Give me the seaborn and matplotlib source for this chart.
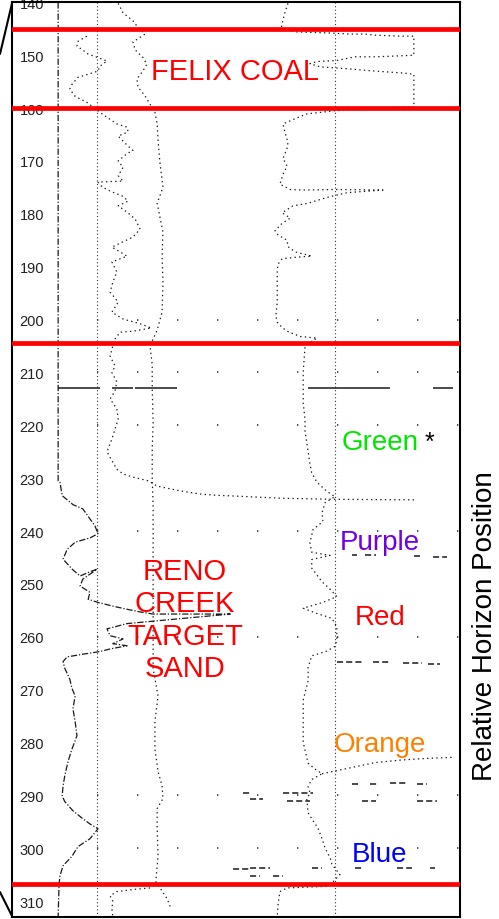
import matplotlib
matplotlib.use("Agg")
import matplotlib.pyplot as plt
from matplotlib.lines import Line2D
import pandas as pd
import seaborn as sns

# depth axis and horizon markers
DEPTH_TICKS = list(range(140, 320, 10))
RED_HORIZONS = [145.1, 160.0, 204.4, 306.8]
GRID_DEPTHS = [200, 210, 220, 240, 260, 290, 300]
REF_LINES = [19.0, 72.1]

# left-track curve (dash-dot, baseline ~10)
SP_POINTS = [
    (140.0, 10.3), (230.5, 10.3), (230.7, 10.7), (233.3, 11.2), (235.0, 13.6),
    (235.8, 15.8), (237.7, 17.4), (239.0, 18.5), (240.5, 19.2), (241.3, 17.4),
    (242.1, 14.1), (243.5, 12.3), (245.3, 11.4), (247.2, 13.4), (248.5, 15.2),
    (247.7, 17.4), (247.2, 19.0), (249.1, 15.8), (250.4, 15.2), (251.6, 17.4),
    (252.9, 17.0), (253.5, 19.2), (254.2, 22.5), (254.8, 25.7), (255.3, 28.6),
    (255.7, 31.5), (255.7, 48.7), (257.5, 25.7), (258.5, 21.2), (259.8, 21.9),
    (260.4, 24.8), (261.3, 22.5), (261.7, 25.7), (262.3, 21.9), (262.8, 19.6),
    (263.3, 15.8), (263.8, 12.3), (264.7, 11.4), (266.0, 11.8), (268.0, 12.9),
    (269.8, 13.4), (271.2, 14.1), (273.6, 13.6), (276.1, 14.1), (278.7, 14.5),
    (281.2, 13.4), (283.6, 12.5), (286.2, 11.8), (288.2, 11.4), (290.1, 11.2),
    (291.2, 11.8), (292.9, 13.6), (294.4, 15.8), (295.4, 17.4), (296.3, 19.2),
    (298.2, 17.4), (299.7, 14.7), (301.5, 13.4), (303.3, 11.4), (305.2, 10.7),
    (306.9, 10.5), (313.0, 10.3),
]

# wiggly dotted curve through the coal and upper sands
GR_POINTS = [
    (146.4, 16.7), (147.4, 14.7), (148.3, 14.5), (148.9, 15.6), (149.8, 17.0),
    (150.4, 19.0), (151.1, 21.2), (152.1, 19.6), (153.0, 19.2), (153.6, 17.0),
    (154.2, 14.7), (155.5, 13.4), (156.4, 12.9), (157.8, 14.1), (158.9, 16.7),
    (160.8, 19.6), (163.0, 23.4), (163.6, 25.7), (164.5, 25.9), (165.3, 23.7),
    (167.2, 25.9), (168.0, 27.0), (168.6, 25.7), (170.0, 23.7), (171.2, 24.8),
    (172.8, 23.7), (173.8, 24.8), (174.0, 19.2), (174.9, 20.1), (175.7, 21.9),
    (176.7, 24.8), (177.6, 25.9), (178.5, 23.7), (179.7, 25.7), (181.0, 27.5),
    (182.9, 28.6), (184.4, 27.0), (186.3, 22.3), (188.0, 25.7), (189.1, 22.3),
    (191.0, 23.4), (192.9, 22.5), (194.8, 21.9), (196.7, 23.7), (198.6, 22.3),
    (199.9, 24.8), (200.8, 28.6), (201.6, 31.1), (202.2, 27.0), (202.4, 24.1),
    (203.7, 23.0), (205.0, 22.5), (206.9, 21.9), (208.8, 23.0), (210.0, 22.3),
    (211.8, 23.4), (213.5, 23.0), (215.0, 21.9), (216.9, 23.4), (218.8, 23.7),
    (220.7, 23.0), (222.6, 22.3), (225.0, 21.2), (226.7, 22.3), (228.3, 23.4),
    (229.2, 24.8), (229.8, 27.0), (230.5, 30.4), (231.5, 32.4), (232.4, 37.5),
    (233.0, 42.0), (233.2, 44.9), (233.4, 50.2), (233.8, 60.3), (234.0, 72.1),
    (234.1, 90.0),
]
GR_BASE_POINTS = [
    (307.5, 30.8), (307.8, 27.0), (308.2, 23.4), (309.0, 21.9), (310.0, 22.5),
    (311.5, 22.3), (313.0, 22.5),
]

# near-straight dotted curve (~32)
DEN_POINTS = [
    (140.2, 23.7), (142.0, 24.8), (143.5, 27.0), (144.5, 27.9), (146.0, 29.7),
    (147.5, 27.0), (149.0, 27.5), (150.4, 29.2), (151.7, 30.1), (153.0, 29.2),
    (154.5, 27.9), (156.0, 28.1), (157.7, 29.7), (160.8, 31.9), (163.0, 32.4),
    (166.0, 32.6), (170.2, 33.0), (175.0, 33.7), (178.0, 32.4), (183.5, 33.7),
    (188.0, 33.5), (193.0, 33.7), (198.6, 33.5), (202.0, 32.4), (205.0, 30.8),
    (208.5, 31.3), (213.0, 31.3), (219.4, 31.5), (224.5, 31.3), (230.0, 31.3),
    (235.2, 31.5), (244.7, 31.5), (256.0, 31.5), (266.0, 31.5), (271.2, 32.6),
    (276.0, 31.9), (281.2, 31.9), (285.5, 32.6), (288.2, 33.5), (290.6, 33.7),
    (292.5, 32.4), (296.3, 32.4), (301.4, 32.6), (306.3, 32.1), (309.5, 34.6),
    (311.0, 35.3),
]

# right-track curve
RES_POINTS = [
    (140.2, 61.6), (142.0, 60.9), (144.0, 60.3), (145.0, 60.1), (145.6, 63.6),
    (145.8, 71.0), (146.0, 75.4), (146.0, 78.8), (146.2, 81.0), (146.4, 86.6),
    (146.4, 89.7), (150.0, 89.7), (150.2, 84.4), (150.3, 81.0), (150.3, 76.6),
    (151.0, 72.5), (151.2, 68.1), (151.6, 66.5), (152.2, 68.8), (152.6, 75.4),
    (152.8, 78.1), (153.0, 81.0), (153.2, 84.4), (153.4, 87.7), (153.6, 89.7),
    (159.8, 89.7), (159.8, 87.1), (160.5, 72.1), (161.1, 65.8), (162.0, 63.2),
    (163.0, 60.5), (164.5, 60.9), (166.5, 61.6), (167.6, 61.4), (169.5, 60.5),
    (171.0, 61.4), (172.5, 60.5), (174.4, 59.8), (175.4, 62.1), (175.5, 65.0),
    (175.4, 72.1), (175.5, 82.8), (176.0, 74.8), (176.9, 70.3), (178.0, 66.1),
    (178.5, 62.7), (179.8, 60.3), (180.8, 62.1), (181.8, 60.3), (183.2, 58.7),
    (184.0, 59.4), (185.0, 61.4), (186.2, 61.6), (187.2, 63.2), (188.0, 66.9),
    (188.2, 63.6), (188.5, 60.3), (189.5, 59.4), (190.6, 59.2), (196.8, 59.2),
    (199.3, 58.9), (200.5, 59.2), (201.5, 60.3), (202.2, 61.4), (203.2, 64.3),
    (203.5, 68.1), (204.5, 66.1), (205.2, 65.4), (210.0, 65.0), (215.8, 65.0),
    (218.9, 65.4), (221.0, 65.4), (227.3, 66.5), (229.0, 66.9), (230.8, 68.1),
    (232.5, 70.3), (233.5, 72.1), (234.6, 69.9), (236.5, 69.2), (238.2, 69.4),
    (239.7, 67.2), (242.2, 66.5), (244.0, 66.9), (244.6, 71.0), (245.4, 66.9),
    (247.0, 66.9), (249.6, 69.2), (251.0, 71.0), (252.4, 72.5), (253.5, 69.4),
    (254.6, 65.0), (255.6, 68.1), (256.5, 71.4), (258.1, 72.5), (260.6, 72.5),
    (261.8, 72.1), (262.7, 70.3), (263.6, 66.9), (265.8, 66.1), (268.3, 66.1),
    (272.0, 65.0), (275.7, 65.0), (280.0, 65.0), (283.9, 66.1), (285.0, 67.6),
    (285.9, 69.2), (287.0, 66.9), (288.3, 66.1), (289.5, 66.5), (290.8, 65.8),
    (293.3, 66.1), (294.8, 67.2), (296.2, 68.3), (298.2, 69.2), (300.0, 69.9),
    (301.8, 71.0), (303.0, 71.4), (305.0, 73.2), (306.3, 71.7), (307.2, 70.3),
    (307.5, 61.4), (308.2, 59.8), (310.6, 59.4), (313.0, 59.2),
]
RES_SWEEP_POINTS = [
    (285.9, 69.2), (284.8, 75.4), (283.8, 81.0), (283.3, 87.0), (283.0, 92.6),
    (282.8, 98.4),
]

# short dashed excursions (depth, from, to)
SPIKES = [
    (244.6, 75.9, 77.0), (244.6, 78.8, 81.2), (244.8, 89.7, 91.1), (245.0, 94.0, 97.1),
    (264.7, 72.5, 78.1), (264.7, 80.6, 84.4), (264.9, 87.3, 91.5), (265.1, 92.9, 95.5),
    (287.8, 75.9, 77.5), (287.8, 79.9, 81.5), (287.6, 84.4, 88.2), (287.8, 90.4, 92.6),
    (291.0, 78.1, 81.2), (291.0, 90.4, 94.9),
    (289.6, 51.6, 53.1), (290.6, 53.1, 56.0), (289.5, 60.5, 67.2), (291.0, 61.4, 66.5),
    (303.8, 76.6, 78.3), (303.8, 85.9, 89.3), (303.8, 93.3, 94.4),
    (303.9, 49.3, 53.1), (303.8, 53.1, 57.6), (303.8, 66.9, 69.2),
    (305.2, 53.1, 55.4), (305.2, 58.3, 60.5),
]
GLITCH_DEPTH = 213.0
GLITCH_FROM = [10.3, 22.3, 27.5, 66.1, 75.9, 94.0]
GLITCH_TO = [19.6, 27.0, 36.8, 75.9, 84.4, 98.4]

# labels (text, baseline depth of last line, x)
COAL_LABEL = ("FELIX COAL", 154.5, 49.8)
SAND_LABEL = ("RENO\nCREEK\nTARGET\nSAND", 267.4, 38.6)
HORIZON_NAMES = ["Green", "Purple", "Red", "Orange", "Blue"]
HORIZON_COLORS = ["#00e600", "#7000e8", "#ff0000", "#ff8000", "#0000ff"]
HORIZON_LABEL_DEPTHS = [224.5, 243.4, 257.6, 281.6, 302.4]
HORIZON_LABEL_X = 82.1


def to_frame(points):
    return pd.DataFrame(points, columns=["depth", "value"])


sns.set_theme(style="white")
plt.rcParams["font.family"] = ["Liberation Sans", "DejaVu Sans"]

fig = plt.figure(figsize=(4.99, 9.2), dpi=100)
ax = fig.add_axes([0.02405, 0.00217, 0.8978, 0.9942])

dot = (0, (1.1, 2.6))
curve_kw = dict(sort=False, estimator=None, color="#1a1a1a", lw=0.9, ax=ax)

for x in REF_LINES:
    ax.axvline(x, color="#333333", lw=0.8, linestyle=(0, (1, 2.2)), zorder=1)

ax.hlines(GRID_DEPTHS, REF_LINES[0], 100, color="#333333", lw=1.2,
          linestyle=(0, (0.8, 23.2)), zorder=1)

sp = to_frame(SP_POINTS)
sns.lineplot(data=sp, x="value", y="depth", linestyle=(0, (5, 1.5, 1, 1.5)), **curve_kw)
for pts in [GR_POINTS, GR_BASE_POINTS, DEN_POINTS, RES_POINTS, RES_SWEEP_POINTS]:
    sns.lineplot(data=to_frame(pts), x="value", y="depth", linestyle=dot, **curve_kw)

spikes = pd.DataFrame(SPIKES, columns=["depth", "x0", "x1"])
ax.hlines(spikes["depth"], spikes["x0"], spikes["x1"], color="#1a1a1a", lw=1.1,
          linestyle=(0, (4, 2)))
ax.hlines([GLITCH_DEPTH] * len(GLITCH_FROM), GLITCH_FROM, GLITCH_TO,
          color="#1a1a1a", lw=1.1)

for d in RED_HORIZONS:
    ax.axhline(d, color="#ff0000", lw=3.4, zorder=4)

ax.text(COAL_LABEL[2], COAL_LABEL[1], COAL_LABEL[0], color="#ff0000", fontsize=21,
        ha="center", va="baseline", zorder=5)
ax.text(SAND_LABEL[2], SAND_LABEL[1], SAND_LABEL[0], color="#ff0000", fontsize=21,
        ha="center", va="baseline", linespacing=1.2, multialignment="center", zorder=5)
for name, color, d in zip(HORIZON_NAMES, HORIZON_COLORS, HORIZON_LABEL_DEPTHS):
    ax.text(HORIZON_LABEL_X, d, name, color=color, fontsize=20,
            ha="center", va="baseline", zorder=5)
ax.text(92.2, HORIZON_LABEL_DEPTHS[0], "*", color="black", fontsize=18,
        ha="left", va="baseline", zorder=5)

ax.set_xlim(0, 100)
ax.set_ylim(313.0, 140.0)
ax.set_xticks([])
ax.set_yticks(DEPTH_TICKS)
ax.set_yticklabels([str(t) for t in DEPTH_TICKS])
ax.tick_params(axis="y", length=0, pad=-23, labelsize=10.5, labelcolor="#222222")
ax.set_xlabel("")
ax.yaxis.set_label_position("right")
ax.set_ylabel("Relative Horizon Position", fontsize=20, color="black")
ax.yaxis.set_label_coords(1.027, 0.319)

for s in ax.spines.values():
    s.set_color("black")
    s.set_linewidth(1.5)

# zoom-in connector strokes at the left edge
fig.add_artist(Line2D([0.0, 0.024], [0.9402, 0.9951], color="black", lw=1.5))
fig.add_artist(Line2D([0.0, 0.024], [0.0293, 0.0033], color="black", lw=1.5))

fig.savefig("out.png", dpi=100)
